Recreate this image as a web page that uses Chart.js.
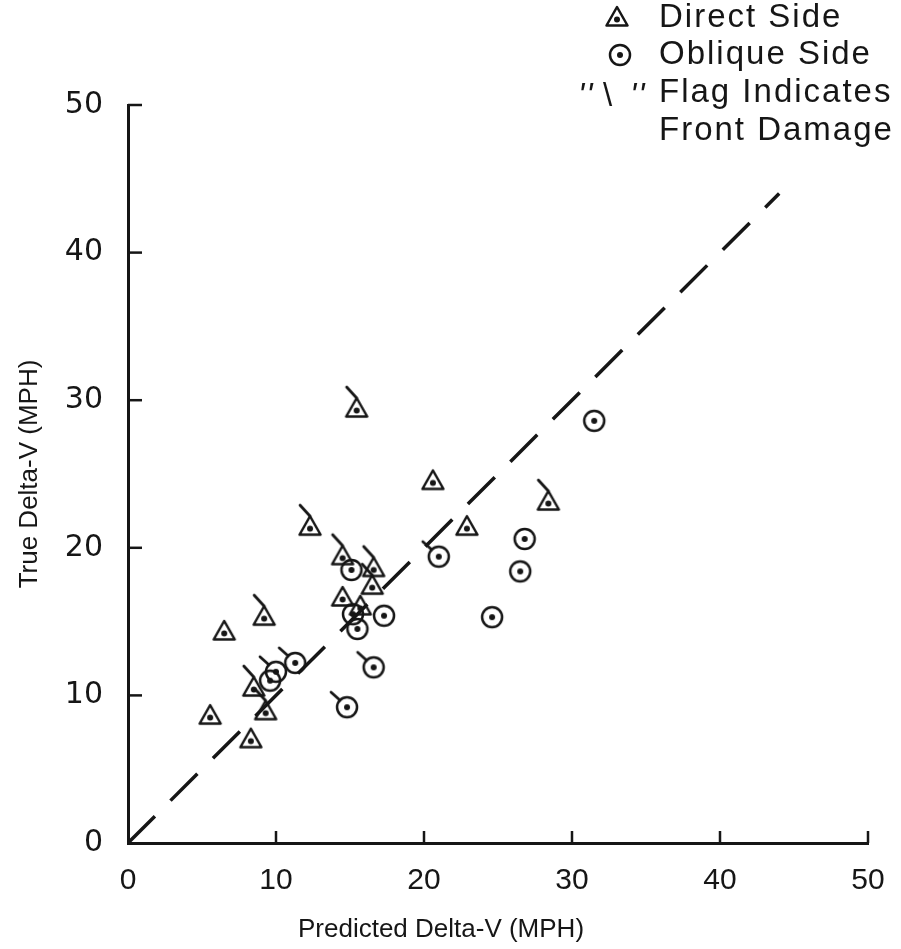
<!DOCTYPE html>
<html>
<head>
<meta charset="utf-8">
<script src="https://cdn.jsdelivr.net/npm/chart.js@4.4.1/dist/chart.umd.min.js"></script>
<style>
  html, body { margin: 0; padding: 0; background: #fff; }
  #wrap { width: 901px; height: 949px; position: relative; }
</style>
</head>
<body>
<div id="wrap"><canvas id="chart"></canvas></div>
<script>
// direct side crashes (triangles)
const directX = [15.45, 20.6, 22.9, 28.4, 12.3, 14.5, 16.6, 16.5, 14.5, 15.7, 9.2, 6.5, 8.5, 9.3, 5.55, 8.3];
const directY = [29.4, 24.5, 21.4, 23.1, 21.4, 19.4, 18.6, 17.4, 16.6, 16.0, 15.3, 14.3, 10.5, 8.9, 8.6, 7.0];
const directFlag = [1, 0, 0, 1, 1, 1, 1, 1, 0, 0, 1, 0, 1, 1, 0, 0];

// oblique side crashes (circles)
const obliqueX = [31.5, 21.0, 26.8, 26.5, 24.6, 15.1, 15.2, 17.3, 15.5, 11.3, 10.0, 9.6, 16.6, 14.8];
const obliqueY = [28.6, 19.4, 20.6, 18.4, 15.3, 18.5, 15.5, 15.4, 14.5, 12.2, 11.6, 11.0, 11.9, 9.2];
const obliqueFlag = [0, 1, 0, 0, 0, 0, 0, 0, 0, 1, 1, 0, 1, 1];

// y = x reference line
const refX = [0, 44];
const refY = [0, 44];

const tickValues = [10, 20, 30, 40, 50];

const INK = "#161616";
const SANS = "'Liberation Sans', Arial, sans-serif";

function marker(kind, flag) {
  const c = document.createElement("canvas");
  c.width = 50;
  c.height = 50;
  const g = c.getContext("2d");
  g.translate(25, 25);
  g.strokeStyle = INK;
  g.fillStyle = INK;
  g.lineWidth = 2.5;
  g.lineJoin = "round";
  g.beginPath();
  if (kind === "tri") {
    g.moveTo(0, -11);
    g.lineTo(10.5, 7.5);
    g.lineTo(-10.5, 7.5);
    g.closePath();
  } else {
    g.arc(0, 0, 10, 0, Math.PI * 2);
  }
  g.stroke();
  g.beginPath();
  g.arc(0, kind === "tri" ? 1.5 : 0, 3, 0, Math.PI * 2);
  g.fill();
  if (flag) {
    g.lineWidth = 2.8;
    g.lineCap = "round";
    g.beginPath();
    if (kind === "tri") {
      g.moveTo(0, -11);
      g.lineTo(-10, -22);
    } else {
      g.moveTo(-7, -7);
      g.lineTo(-16, -15);
    }
    g.stroke();
  }
  return c;
}

const icons = {
  tri: marker("tri", false),
  triFlag: marker("tri", true),
  circ: marker("circ", false),
  circFlag: marker("circ", true)
};

function points(xs, ys) {
  return xs.map((x, i) => ({ x: x, y: ys[i] }));
}

const extras = {
  id: "extras",
  afterDraw(chart) {
    const { ctx, scales } = chart;
    const area = chart.chartArea;
    ctx.save();
    ctx.strokeStyle = INK;
    ctx.lineWidth = 2.5;
    // ticks point inward
    tickValues.forEach((v) => {
      const px = scales.x.getPixelForValue(v);
      ctx.beginPath();
      ctx.moveTo(px, area.bottom);
      ctx.lineTo(px, area.bottom - 12);
      ctx.stroke();
      const py = scales.y.getPixelForValue(v);
      ctx.beginPath();
      ctx.moveTo(area.left, py);
      ctx.lineTo(area.left + 14, py);
      ctx.stroke();
    });

    // x axis title sits left of centre in the original
    ctx.fillStyle = INK;
    ctx.font = "26px " + SANS;
    ctx.textAlign = "center";
    ctx.textBaseline = "middle";
    ctx.fillText("Predicted Delta-V (MPH)", 441, 930);

    // legend
    ctx.drawImage(icons.tri, 617 - 25, 18 - 25);
    ctx.drawImage(icons.circ, 620 - 25, 55 - 25);
    ctx.font = "33px " + SANS;
    ctx.textAlign = "left";
    ctx.letterSpacing = "2px";
    ctx.fillText("Direct Side", 659, 18);
    ctx.fillText("Oblique Side", 659, 55);
    ctx.fillText("Flag Indicates", 659, 93);
    ctx.fillText("Front Damage", 659, 131);
    ctx.font = "italic 33px " + SANS;
    ctx.fillText("''", 578, 97);
    ctx.fillText("''", 630, 97);
    ctx.font = "33px " + SANS;
    ctx.fillText("\\", 603, 97);
    ctx.restore();
  }
};

new Chart(document.getElementById("chart"), {
  type: "scatter",
  data: {
    datasets: [
      {
        label: "Direct Side",
        data: points(directX, directY),
        pointStyle: (c) => (directFlag[c.dataIndex] ? icons.triFlag : icons.tri),
        pointRadius: 10,
        order: 1
      },
      {
        label: "Oblique Side",
        data: points(obliqueX, obliqueY),
        pointStyle: (c) => (obliqueFlag[c.dataIndex] ? icons.circFlag : icons.circ),
        pointRadius: 10,
        order: 2
      },
      {
        type: "line",
        label: "y = x",
        data: points(refX, refY),
        borderColor: INK,
        borderWidth: 3.5,
        borderDash: [38, 22],
        pointRadius: 0,
        fill: false,
        order: 3
      }
    ]
  },
  options: {
    responsive: true,
    maintainAspectRatio: false,
    animation: false,
    layout: { padding: { top: 105, right: 33, left: 0, bottom: 0 } },
    plugins: { legend: { display: false }, tooltip: { enabled: false } },
    scales: {
      x: {
        type: "linear",
        min: 0,
        max: 50,
        ticks: {
          stepSize: 10,
          color: INK,
          padding: 12,
          font: { family: SANS, size: 30 }
        },
        grid: { display: false },
        border: { display: true, color: INK, width: 3 },
        afterFit: (s) => { s.height = 106; }
      },
      y: {
        type: "linear",
        min: 0,
        max: 50,
        ticks: {
          stepSize: 10,
          color: INK,
          padding: 17,
          font: { family: "'DejaVu Sans', sans-serif", size: 30 }
        },
        grid: { display: false },
        border: { display: true, color: INK, width: 3 },
        title: {
          display: true,
          text: "True Delta-V (MPH)",
          color: INK,
          padding: { top: 14, bottom: 0 },
          font: { family: SANS, size: 26 }
        },
        afterFit: (s) => { s.width = 128; }
      }
    }
  },
  plugins: [extras]
});
</script>
</body>
</html>
